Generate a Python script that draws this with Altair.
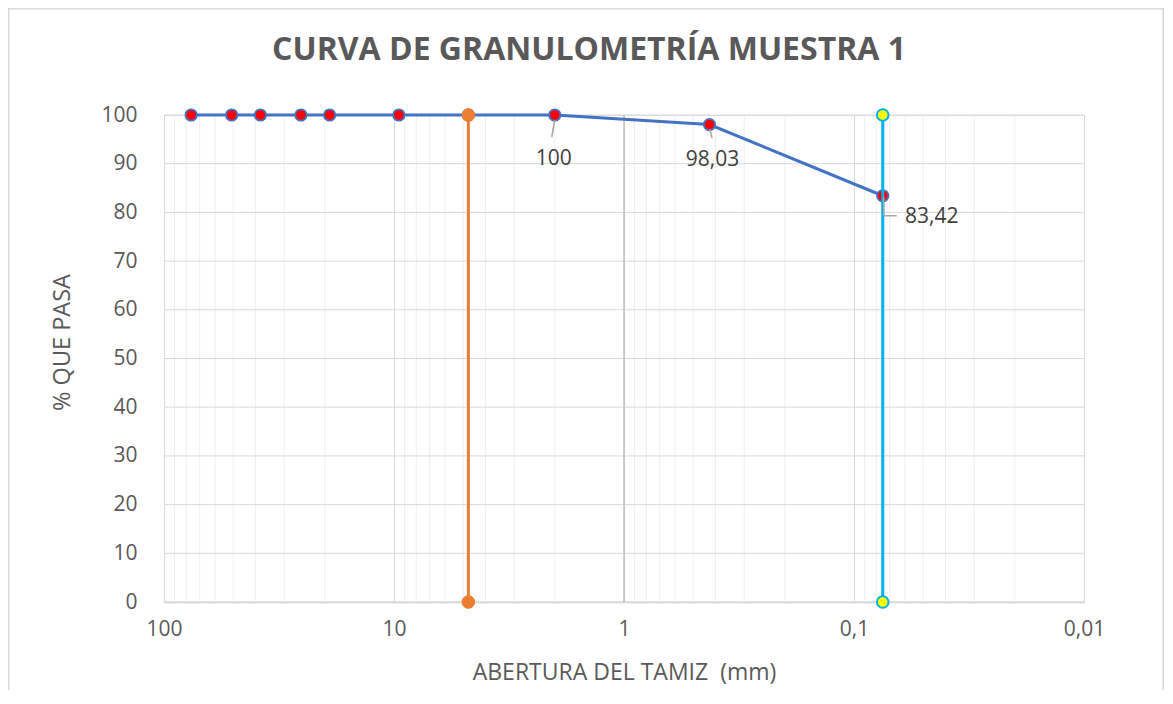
import altair as alt
import pandas as pd

# --- data ---
sieve_mm = [76.2, 50.8, 38.1, 25.4, 19.05, 9.525, 4.75, 2.0, 0.425, 0.075]
pct_pass = [100, 100, 100, 100, 100, 100, 100, 100, 98.03, 83.42]

label_mm = [2.0, 0.425, 0.075]
label_val = [100, 98.03, 83.42]
label_txt = ["100", "98,03", "83,42"]

orange_x = [4.75, 4.75]
orange_y = [0, 100]
cyan_x = [0.075, 0.075]
cyan_y = [0, 100]

x_major = [100, 10, 1, 0.1, 0.01]
x_minor = [m * d for d in [0.01, 0.1, 1, 10] for m in range(2, 10)]
y_ticks = list(range(0, 101, 10))

FONT = "Open Sans"
GREY = "#595959"

W, H = 920, 487

xscale = alt.Scale(type="log", domain=[0.01, 100], reverse=True)
yscale = alt.Scale(domain=[0, 100])

x_axis = alt.Axis(
    values=x_major,
    labelExpr="datum.value >= 1 ? format(datum.value, 'd') : replace(format(datum.value, '.2~f'), '.', ',')",
    grid=True, gridColor="#d9d9d9", gridWidth=1,
    ticks=False, tickSize=0, domain=True, domainColor="#d0d0d0", domainWidth=1.5,
    labelFlush=False, labelFont=FONT, labelFontSize=21, labelColor=GREY, labelPadding=16,
    title="ABERTURA DEL TAMIZ\u00a0 (mm)", titleFont=FONT, titleFontSize=23,
    titleFontWeight="normal", titleColor=GREY,
    titleX=460, titleY=70, titleBaseline="middle", titleAlign="center",
)
y_axis = alt.Axis(
    values=y_ticks, grid=False, ticks=False, tickSize=0, domain=False,
    labelFont=FONT, labelFontSize=21, labelColor=GREY, labelPadding=27,
    title="% QUE PASA", titleFont=FONT, titleFontSize=23.5,
    titleFontWeight="normal", titleColor=GREY,
    titleX=-102, titleY=227, titleAngle=-90, titleBaseline="middle", titleAlign="center",
)

minor_df = pd.DataFrame({"x": x_minor})
hgrid_df = pd.DataFrame({"y": y_ticks})
main_df = pd.DataFrame({"x": sieve_mm, "y": pct_pass})
orange_df = pd.DataFrame({"x": orange_x, "y": orange_y})
cyan_df = pd.DataFrame({"x": cyan_x, "y": cyan_y})

minor = alt.Chart(minor_df).mark_rule(color="#efefef", strokeWidth=1).encode(
    x=alt.X("x:Q", scale=xscale, axis=x_axis)
)
hgrid = alt.Chart(hgrid_df).mark_rule(color="#d9d9d9", strokeWidth=1).encode(
    y=alt.Y("y:Q", scale=yscale, axis=y_axis)
)
vaxis = alt.Chart(pd.DataFrame({"x": [1]})).mark_rule(color="#bfbfbf", strokeWidth=1.5).encode(
    x=alt.X("x:Q", scale=xscale)
)

enc = dict(x=alt.X("x:Q", scale=xscale), y=alt.Y("y:Q", scale=yscale))

blue_line = alt.Chart(main_df).mark_line(color="#4472C4", strokeWidth=3).encode(**enc)
blue_pts = alt.Chart(main_df).mark_point(
    filled=True, fill="#FF0000", stroke="#4472C4", strokeWidth=1.8, size=130, opacity=1
).encode(**enc)

orange_line = alt.Chart(orange_df).mark_line(color="#ED7D31", strokeWidth=3).encode(**enc)
orange_pts = alt.Chart(orange_df).mark_point(
    filled=True, fill="#ED7D31", stroke="#ED7D31", strokeWidth=1, size=160, opacity=1
).encode(**enc)

cyan_line = alt.Chart(cyan_df).mark_line(color="#00B0F0", strokeWidth=3).encode(**enc)
cyan_pts = alt.Chart(cyan_df).mark_point(
    filled=True, fill="#FFFF00", stroke="#00B0F0", strokeWidth=2, size=135, opacity=1
).encode(**enc)

# data labels with leader lines
label_layers = []
label_offsets = [(-1, 44), (3, 35.5), (49, 21)]
leader_specs = [
    [dict(xOffset=0, yOffset=5, x2Offset=-3, y2Offset=22)],
    [dict(xOffset=0.5, yOffset=4.5, x2Offset=2.5, y2Offset=13.5)],
    [dict(xOffset=1, yOffset=1, x2Offset=1, y2Offset=20),
     dict(xOffset=1, yOffset=20, x2Offset=14, y2Offset=20)],
]
for i in range(len(label_mm)):
    df = pd.DataFrame({"x": [label_mm[i]], "y": [label_val[i]], "t": [label_txt[i]]})
    for spec in leader_specs[i]:
        label_layers.append(
            alt.Chart(df).mark_rule(color="#a6a6a6", strokeWidth=1.5, **spec).encode(
                x=alt.X("x:Q", scale=xscale), y=alt.Y("y:Q", scale=yscale),
                x2="x:Q", y2="y:Q",
            )
        )
    dx, dy = label_offsets[i]
    label_layers.append(
        alt.Chart(df).mark_text(
            font=FONT, fontSize=21, color="#404040", align="center", baseline="middle", dx=dx, dy=dy
        ).encode(x=alt.X("x:Q", scale=xscale), y=alt.Y("y:Q", scale=yscale), text="t:N")
    )

PAD_R, PAD_B = 80, 88
border = alt.Chart(pd.DataFrame({"a": [0]})).mark_rect(
    filled=False, stroke="#d9d9d9", strokeWidth=1.5
).encode(
    x=alt.value(-155.25), x2=alt.value(W + PAD_R - 0.75), y=alt.value(-106.25), y2=alt.value(H + 130)
)

chart = alt.layer(
    minor, hgrid, vaxis,
    blue_line, blue_pts,
    orange_line, orange_pts,
    cyan_line, cyan_pts,
    *label_layers,
    border,
).properties(
    width=W, height=H,
    title=alt.TitleParams(
        text="CURVA DE GRANULOMETRÍA MUESTRA 1", font=FONT, fontSize=32, fontWeight="bold",
        color=GREY, anchor="middle", dx=-35, offset=-74, baseline="middle",
    ),
    autosize=alt.AutoSizeParams(type="none"),
    padding={"left": 156, "top": 107, "right": PAD_R, "bottom": PAD_B},
).configure_view(stroke=None).configure(background="white")

chart.save("out.html", embed_options={"renderer": "svg", "actions": False})
